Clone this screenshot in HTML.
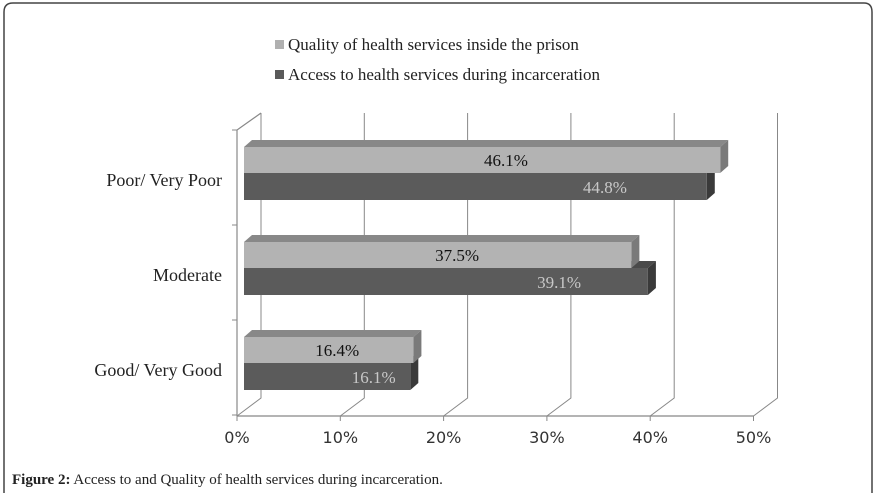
<!DOCTYPE html>
<html><head><meta charset="utf-8"><style>
body{margin:0;background:#fff;}
svg{display:block;font-family:"Liberation Serif",serif;}
</style></head><body>
<svg width="874" height="493">
<path d="M4,493 V12 Q4,3 13,3 H864 Q872,3 872,12 V493" fill="none" stroke="#444" stroke-width="1.5"/>
<g>
<rect x="275" y="40" width="9" height="9" fill="#b0b0b0"/>
<text x="288" y="50" font-size="17" fill="#222">Quality of health services inside the prison</text>
<rect x="275" y="70" width="9" height="9" fill="#5a5a5a"/>
<text x="288" y="80" font-size="17" fill="#222">Access to health services during incarceration</text>
</g>
<g id="plot"></g>
<text x="12" y="484" font-size="15" fill="#222"><tspan font-weight="bold">Figure 2:</tspan> Access to and Quality of health services during incarceration.</text>
</svg>
<script>
const categories=["Poor/ Very Poor","Moderate","Good/ Very Good"];
const quality=[46.1,37.5,16.4];
const access=[44.8,39.1,16.1];
const ticks=[0,10,20,30,40,50];
const NS="http://www.w3.org/2000/svg";
const g=document.getElementById("plot");
const X0=237,PX=10.33,FY=416,DX=24,DY=18,TOP=113;
const xF=v=>X0+v*PX;
const bx=v=>X0+7+v*PX;
const catY=i=>173+i*95;
function mk(t,a,p){const e=document.createElementNS(NS,t);for(const k in a)e.setAttribute(k,a[k]);(p||g).appendChild(e);return e;}
ticks.forEach(t=>{
 const l=mk("path",{d:`M${xF(t)},${FY} L${xF(t)+DX},${FY-DY} V${TOP}`,fill:"none",stroke:"#888","stroke-width":1});
 
 
 const tk=mk("line",{x1:xF(t),y1:FY,x2:xF(t),y2:FY+5,stroke:"#888"});
 
 
 const tx=mk("text",{x:xF(t),y:FY+27,"text-anchor":"middle","font-size":16,fill:"#333","font-family":"DejaVu Sans, sans-serif"});
 tx.textContent=t+"%";
 
 
});
const ax=mk("path",{d:`M${xF(0)},${FY} H${xF(50)} M${xF(0)},${FY} V${TOP+17} L${xF(0)+DX},${TOP}`,fill:"none",stroke:"#888","stroke-width":1.2});


[0,1,2,3].forEach(i=>{const t=mk("line",{x1:X0-5,y1:130+i*95,x2:X0,y2:130+i*95,stroke:"#888"});
 
 });
function bar(v,y,h,front,top,side,name){
 const grp=mk("g",{});
 
 
 const x1=bx(0),x2=bx(v);
 mk("polygon",{points:`${x1},${y} ${x1+8},${y-7} ${x2+8},${y-7} ${x2},${y}`,fill:top},grp);
 mk("polygon",{points:`${x2},${y} ${x2+8},${y-7} ${x2+8},${y+h-7} ${x2},${y+h}`,fill:side},grp);
 mk("rect",{x:x1,y:y,width:x2-x1,height:h,fill:front},grp);
}
categories.forEach((c,i)=>{
 const cy=catY(i);
 bar(access[i],cy,27,"#5b5b5b","#4a4a4a","#3a3a3a","bar-access-"+i);
 bar(quality[i],cy-26,26,"#b3b3b3","#888","#7a7a7a","bar-quality-"+i);
 const lq=mk("text",{x:bx(quality[i]*0.55),y:cy-7,"text-anchor":"middle","font-size":17,fill:"#111"});
 lq.textContent=quality[i].toFixed(1)+"%";
 
 
 const la=mk("text",{x:bx(access[i]*0.78),y:cy+20,"text-anchor":"middle","font-size":17,fill:"#c8c8c8"});
 la.textContent=access[i].toFixed(1)+"%";
 
 
 const cl=mk("text",{x:222,y:cy+13,"text-anchor":"end","font-size":18,fill:"#222"});
 cl.textContent=c;
 
 
});
</script>
</body></html>
